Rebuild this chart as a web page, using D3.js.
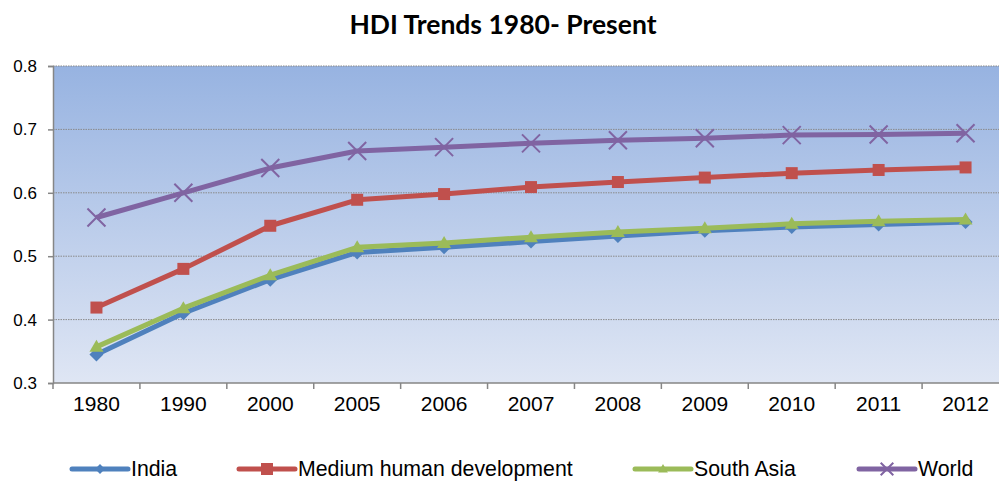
<!DOCTYPE html>
<html>
<head>
<meta charset="utf-8">
<script src="https://cdn.jsdelivr.net/npm/d3@7"></script>
<style>
  html, body { margin: 0; padding: 0; background: #fff; }
  svg { display: block; }
</style>
</head>
<body>
<svg id="chart"></svg>
<script>
// Datos
const years = ["1980", "1990", "2000", "2005", "2006", "2007", "2008", "2009", "2010", "2011", "2012"];
const india = [0.345, 0.410, 0.463, 0.506, 0.514, 0.523, 0.532, 0.540, 0.546, 0.550, 0.554];
const mediumHD = [0.419, 0.480, 0.548, 0.589, 0.598, 0.609, 0.617, 0.624, 0.631, 0.636, 0.640];
const southAsia = [0.357, 0.418, 0.470, 0.514, 0.521, 0.530, 0.538, 0.544, 0.551, 0.555, 0.558];
const world = [0.561, 0.600, 0.639, 0.666, 0.672, 0.678, 0.683, 0.686, 0.691, 0.692, 0.694];
const yTicks = [0.3, 0.4, 0.5, 0.6, 0.7, 0.8];
const seriesNames = ["India", "Medium human development", "South Asia", "World"];

const series = [
    { name: seriesNames[0], values: india, color: "#4f81bd", marker: "diamond" },
    { name: seriesNames[1], values: mediumHD, color: "#c0504d", marker: "square" },
    { name: seriesNames[2], values: southAsia, color: "#9bbb59", marker: "triangle" },
    { name: seriesNames[3], values: world, color: "#8064a2", marker: "cross" }
];

const width = 999;
const height = 481;
const plot = { left: 53, right: 1009, top: 66, bottom: 383 };
const fontArial = "'Liberation Sans', Arial, sans-serif";

const svg = d3.select("#chart")
    .attr("width", width)
    .attr("height", height)
    .style("font-family", fontArial);

// Escalas
const x = d3.scaleBand()
    .domain(years)
    .range([plot.left, plot.right])
    .padding(0);

const y = d3.scaleLinear()
    .domain([0.3, 0.8])
    .range([plot.bottom, plot.top]);

// Fondo con degradado
const defs = svg.append("defs");
const grad = defs.append("linearGradient")
    .attr("id", "bg")
    .attr("x1", 0).attr("y1", 0).attr("x2", 0).attr("y2", 1);
grad.append("stop").attr("offset", "0%").attr("stop-color", "#97b3e1");
grad.append("stop").attr("offset", "100%").attr("stop-color", "#dfe6f4");

svg.append("rect")
    .attr("x", plot.left)
    .attr("y", plot.top)
    .attr("width", plot.right - plot.left)
    .attr("height", plot.bottom - plot.top)
    .attr("fill", "url(#bg)");

// Líneas de cuadrícula
svg.append("g")
    .selectAll("line")
    .data(yTicks.filter(d => d > 0.3))
    .join("line")
    .attr("x1", plot.left)
    .attr("x2", plot.right)
    .attr("y1", d => y(d))
    .attr("y2", d => y(d))
    .attr("stroke", "#8a8a8a")
    .attr("stroke-width", 1)
    .attr("stroke-dasharray", "1.5,1");

// Eje Y
const yAxis = svg.append("g")
    .attr("transform", `translate(${plot.left},0)`)
    .call(d3.axisLeft(y).tickValues(yTicks).tickSize(5).tickPadding(11).tickFormat(d3.format(".1f")));
yAxis.select(".domain").attr("stroke", "#868686").attr("stroke-width", 1.5);
yAxis.selectAll(".tick line").attr("stroke", "#868686").attr("stroke-width", 1.5);
yAxis.selectAll("text").attr("font-size", 17).attr("fill", "#000").style("font-family", fontArial);

// Eje X
const xAxis = svg.append("g")
    .attr("transform", `translate(0,${plot.bottom})`)
    .call(d3.axisBottom(x).tickSize(0).tickPadding(13));
xAxis.select(".domain").remove();
xAxis.selectAll("text").attr("font-size", 21).attr("fill", "#000").style("font-family", fontArial);

svg.append("line")
    .attr("x1", plot.left).attr("x2", plot.right)
    .attr("y1", plot.bottom).attr("y2", plot.bottom)
    .attr("stroke", "#868686").attr("stroke-width", 1.5);

// Marcas entre categorías
svg.append("g")
    .selectAll("line")
    .data(years)
    .join("line")
    .attr("x1", d => x(d))
    .attr("x2", d => x(d))
    .attr("y1", plot.bottom)
    .attr("y2", plot.bottom + 6)
    .attr("stroke", "#868686")
    .attr("stroke-width", 1.5);

// Línea
const line = d3.line()
    .x((d, i) => x(years[i]) + x.bandwidth() / 2)
    .y(d => y(d));

function drawMarker(g, type, color, cx, cy, k) {
    if (type === "diamond") {
        g.append("path")
            .attr("d", `M${cx},${cy - 7 * k}L${cx + 7 * k},${cy}L${cx},${cy + 7 * k}L${cx - 7 * k},${cy}Z`)
            .attr("fill", color);
    } else if (type === "square") {
        g.append("rect")
            .attr("x", cx - 6 * k).attr("y", cy - 6 * k)
            .attr("width", 12 * k).attr("height", 12 * k)
            .attr("fill", color);
    } else if (type === "triangle") {
        g.append("path")
            .attr("d", `M${cx},${cy - 7 * k}L${cx + 7 * k},${cy + 5 * k}L${cx - 7 * k},${cy + 5 * k}Z`)
            .attr("fill", color);
    } else {
        g.append("path")
            .attr("d", `M${cx - 9 * k},${cy - 9 * k}L${cx + 9 * k},${cy + 9 * k}M${cx - 9 * k},${cy + 9 * k}L${cx + 9 * k},${cy - 9 * k}`)
            .attr("stroke", color)
            .attr("stroke-width", 2);
    }
}

series.forEach(s => {
    const g = svg.append("g");
    g.append("path")
        .datum(s.values)
        .attr("fill", "none")
        .attr("stroke", s.color)
        .attr("stroke-width", 5)
        .attr("stroke-linejoin", "round")
        .attr("d", line);
    s.values.forEach((v, i) => {
        drawMarker(g, s.marker, s.color, x(years[i]) + x.bandwidth() / 2, y(v), 1);
    });
});

// Título
svg.append("text")
    .attr("x", 503)
    .attr("y", 34)
    .attr("text-anchor", "middle")
    .attr("font-family", "Lato, 'Open Sans', sans-serif")
    .attr("font-weight", "bold")
    .attr("font-size", 26.5)
    .text("HDI Trends 1980- Present");

// Leyenda
const legendX = [72, 239, 635, 859];
const legendY = 469;
series.forEach((s, i) => {
    const g = svg.append("g");
    g.append("line")
        .attr("x1", legendX[i]).attr("x2", legendX[i] + 56)
        .attr("y1", legendY).attr("y2", legendY)
        .attr("stroke", s.color)
        .attr("stroke-width", 5)
        .attr("stroke-linecap", "round");
    drawMarker(g, s.marker, s.color, legendX[i] + 28, legendY, s.marker === "square" ? 1 : 0.7);
    g.append("text")
        .attr("x", legendX[i] + 59)
        .attr("y", legendY + 7)
        .attr("font-size", 21.3)
        .attr("fill", "#000")
        .text(s.name);
});
</script>
</body>
</html>
